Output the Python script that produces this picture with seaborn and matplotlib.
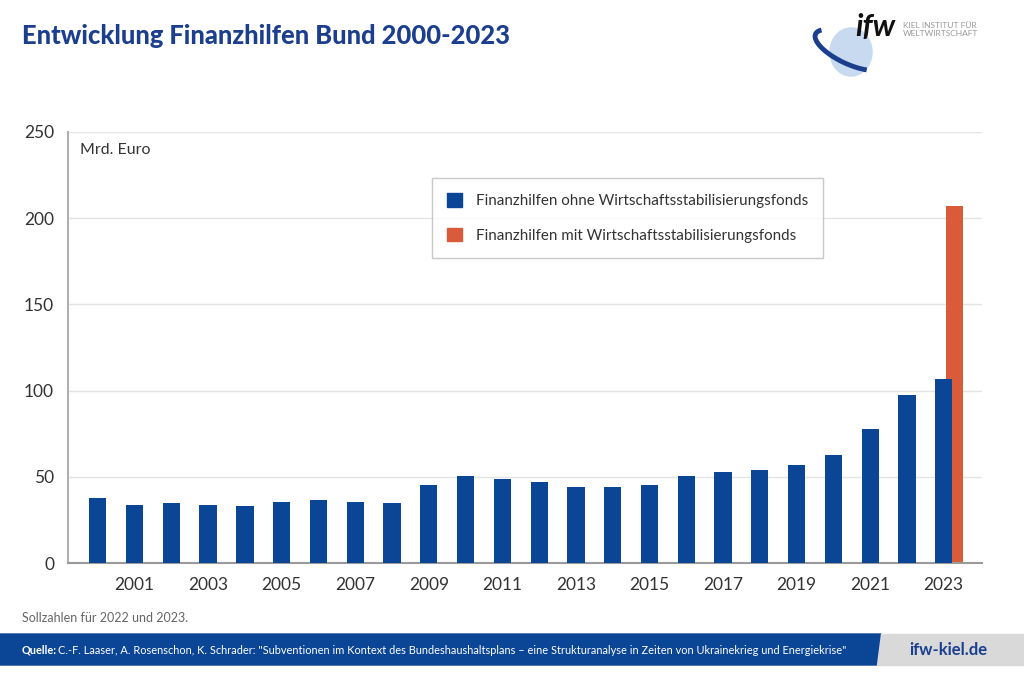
import matplotlib.pyplot as plt
import seaborn as sns
import pandas as pd
from matplotlib.patches import Polygon, Patch, Ellipse, Arc
from matplotlib.transforms import IdentityTransform

# Data (Mrd. Euro)
years = list(range(2000, 2024))
ohne_wsf = [37.9, 33.5, 34.6, 33.5, 32.9, 35.2, 36.7, 35.2, 34.6, 45.2, 50.4, 48.8,
            46.7, 44.0, 44.0, 45.0, 50.4, 52.5, 54.0, 57.1, 62.5, 77.5, 97.5, 106.7]
mit_wsf_years = [2023]
mit_wsf = [207.1]
tick_years = years[1::2]
series_names = ['Finanzhilfen ohne Wirtschaftsstabilisierungsfonds',
                'Finanzhilfen mit Wirtschaftsstabilisierungsfonds']

blue = '#0b4595'
orange = '#d95b39'
navy = '#1b3f8e'

sns.set_theme(style='white')
plt.rcParams['font.family'] = ['Lato', 'DejaVu Sans']

W, H = 1024, 674
fig = plt.figure(figsize=(W / 100, H / 100), dpi=100)
ax = fig.add_axes([68 / W, 1 - 563 / H, 914 / W, 431 / H])

df = pd.DataFrame({'year': years, 'value': ohne_wsf})
sns.barplot(data=df, x='year', y='value', color=blue, saturation=1, width=0.47,
            linewidth=0, ax=ax, zorder=3)
# orange bar sits slightly to the right, behind the blue one
for yr, v in zip(mit_wsf_years, mit_wsf):
    ax.bar(years.index(yr) + 0.3, v, width=0.47, color=orange, linewidth=0, zorder=2)

ax.set_xlim(-0.81, 24.04)
ax.set_ylim(0, 250)
ax.set_yticks(range(0, 251, 50))
ax.set_xticks([years.index(y) for y in tick_years])
ax.set_xticklabels([str(y) for y in tick_years])
ax.set_xlabel('')
ax.set_ylabel('')
ax.tick_params(axis='both', length=0, labelsize=12.5, labelcolor='#333333')
ax.tick_params(axis='y', pad=10)
ax.tick_params(axis='x', pad=10)
ax.yaxis.grid(True, color='#e4e4e4', lw=1)
ax.set_axisbelow(True)
for s in ['top', 'right']:
    ax.spines[s].set_visible(False)
ax.spines['left'].set_color('#b0b0b0')
ax.spines['left'].set_linewidth(1.5)
ax.spines['bottom'].set_color('#9a9a9a')
ax.spines['bottom'].set_linewidth(1.5)

ax.text(0.013, 0.958, 'Mrd. Euro', transform=ax.transAxes, fontsize=11.5,
        color='#333333', va='center', ha='left')

handles = [Patch(color=blue), Patch(color=orange)]
ax.legend(handles, series_names, loc='upper left', bbox_to_anchor=(0.398, 0.893),
          frameon=True, fancybox=False, edgecolor='#bbbbbb', fontsize=10.9,
          handlelength=1.0, handleheight=1.0, borderpad=1.0, labelspacing=1.3,
          handletextpad=0.9, borderaxespad=0, labelcolor='#333333')
ax.get_legend().get_frame().set_width(394)

# Title
fig.text(22 / W, 1 - 36 / H, 'Entwicklung Finanzhilfen Bund 2000-2023', fontsize=18.4,
         fontweight='black', color=navy, va='center', ha='left')

# Logo (globe + swoosh + lettering), drawn in pixel coordinates
fig.patches.append(Ellipse((851, H - 52), 42, 48, color='#c7daef',
                           transform=IdentityTransform(), figure=fig))
fig.patches.append(Arc((850, H - 50), 76, 28, angle=-25, theta1=170, theta2=335,
                       color=navy, lw=3.5, transform=IdentityTransform(), figure=fig))
fig.text(855 / W, 1 - 27 / H, 'ifw', fontsize=22, fontweight='bold', style='italic',
         color='#111111', va='center', ha='left')
fig.text(903 / W, 1 - 25 / H, 'KIEL INSTITUT FÜR', fontsize=6, color='#999999',
         va='center', ha='left')
fig.text(903 / W, 1 - 34 / H, 'WELTWIRTSCHAFT', fontsize=6, color='#999999',
         va='center', ha='left')

# Footnote
fig.text(22 / W, 1 - 618 / H, 'Sollzahlen für 2022 und 2023.', fontsize=9,
         color='#666666', va='center', ha='left')

# Footer band
def px(points):
    return [(x / W, 1 - y / H) for x, y in points]

fig.patches.append(Polygon(px([(0, 634), (881, 634), (877, 665), (0, 665)]),
                           closed=True, color=blue, transform=fig.transFigure,
                           figure=fig))
fig.patches.append(Polygon(px([(881, 634), (1024, 634), (1024, 665), (877, 665)]),
                           closed=True, color='#d9d9d9', transform=fig.transFigure,
                           figure=fig))
fig.text(22 / W, 1 - 650 / H, 'Quelle:', fontsize=7.9, fontweight='bold',
         color='white', va='center', ha='left')
fig.text(58 / W, 1 - 650 / H,
         'C.-F. Laaser, A. Rosenschon, K. Schrader: "Subventionen im Kontext des '
         'Bundeshaushaltsplans – eine Strukturanalyse in Zeiten von Ukrainekrieg '
         'und Energiekrise"', fontsize=7.9, color='white', va='center', ha='left')
fig.text(948 / W, 1 - 650 / H, 'ifw-kiel.de', fontsize=12, fontweight='bold',
         color=navy, va='center', ha='center')

fig.savefig('out.png', dpi=100)
